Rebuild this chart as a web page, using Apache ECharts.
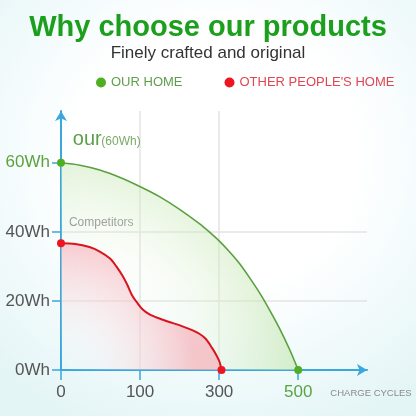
<!DOCTYPE html>
<html>
<head>
<meta charset="utf-8">
<script src="https://cdn.jsdelivr.net/npm/echarts@6/dist/echarts.min.js"></script>
<style>
  html, body { margin: 0; padding: 0; }
  #chart {
    width: 416px; height: 416px;
    background: radial-gradient(ellipse 75% 70% at 52% 38%, #ffffff 45%, #f3fbfc 70%, #e4f5f6 100%);
  }
</style>
</head>
<body>
<div id="chart"></div>
<script>
// ---- data ----
const cycleTicks = [0, 100, 300, 500];            // x tick labels (equally spaced on the picture)
const whTicks = [0, 20, 40, 60];                   // y tick values
const ourCycles = [0, 24, 49, 74, 99, 149, 199, 250, 275, 300, 325, 351, 376, 402, 427, 453, 478, 500];
const ourWh     = [60, 59.3, 57.9, 55.8, 53.2, 50.2, 46.6, 42.4, 40.0, 37.4, 34.4, 30.9, 26.9, 22.4, 17.5, 12.0, 6.0, 0];
const compCycles = [0, 18, 36, 49, 62, 70, 78, 84, 90, 97, 106, 124, 149, 174, 199, 224, 250, 267, 282, 292, 301, 306];
const compWh     = [36.7, 36.5, 35.6, 34.3, 32.3, 30.0, 27.2, 24.6, 21.6, 19.3, 17.6, 16.1, 14.9, 13.9, 13.0, 11.9, 10.5, 8.9, 6.4, 4.5, 2.4, 0];
const seriesNames = ['OUR HOME', "OTHER PEOPLE'S HOME"];
const titleText = 'Why choose our products';
const subtitleText = 'Finely crafted and original';

// map cycles onto the picture's equally spaced tick positions
function toPos(c) {
  for (let i = 0; i < cycleTicks.length - 1; i++) {
    if (c <= cycleTicks[i + 1] || i === cycleTicks.length - 2) {
      return i + (c - cycleTicks[i]) / (cycleTicks[i + 1] - cycleTicks[i]);
    }
  }
}
const pair = (xs, ys) => xs.map((c, i) => [toPos(c), ys[i]]);

const FONT = '"Liberation Sans", Arial, sans-serif';
const AXIS_COLOR = '#3aa7dd';
const GREEN_LINE = '#5ba03f';
const GREEN_DOT = '#4fae22';
const RED_LINE = '#d8141f';
const RED_DOT = '#ec1620';

const chart = echarts.init(document.getElementById('chart'), null, { renderer: 'canvas' });

const endDot = (n) => (v, p) => (p.dataIndex === 0 || p.dataIndex === n - 1) ? 8 : 0;

chart.setOption({
  animation: false,
  title: [
    { text: titleText, left: 'center', top: 13, padding: 0,
      textStyle: { fontFamily: FONT, fontSize: 29, fontWeight: 'bold', color: '#1c9f1c' } },
    { text: subtitleText, left: 'center', top: 45, padding: 0,
      textStyle: { fontFamily: FONT, fontSize: 17, fontWeight: 'normal', color: '#333' } }
  ],
  legend: {
    left: 91, top: 71, icon: 'circle', itemWidth: 10, itemHeight: 10, itemGap: 42,
    textStyle: { fontFamily: FONT, fontSize: 13 },
    data: [
      { name: seriesNames[0], textStyle: { color: '#5f9f4c' } },
      { name: seriesNames[1], textStyle: { color: '#e04652' } }
    ]
  },
  grid: { left: 61, right: 49, top: 111, bottom: 46, containLabel: false },
  xAxis: {
    type: 'value', min: 0, max: 3.87,
    axisLine: { show: true, symbol: ['none', 'arrow'], symbolSize: [9, 10],
      lineStyle: { color: AXIS_COLOR, width: 2 } },
    axisTick: { show: true, length: 10, customValues: [0, 1, 2, 3],
      lineStyle: { color: AXIS_COLOR, width: 1.5 } },
    axisLabel: {
      customValues: [0, 1, 2, 3], margin: 14,
      fontFamily: FONT, fontSize: 17, color: '#555',
      formatter: (v) => {
        const i = Math.round(v);
        const t = String(cycleTicks[i]);
        return i === cycleTicks.length - 1 ? '{g|' + t + '}' : t;
      },
      rich: { g: { color: '#5ba33f', fontFamily: FONT, fontSize: 17 } }
    },
    splitLine: { show: true, showMinLine: false, showMaxLine: false,
      lineStyle: { color: '#e3e3e3', width: 1.5 } }
  },
  yAxis: {
    type: 'value', min: 0, max: 75,
    axisLine: { show: true, symbol: ['none', 'arrow'], symbolSize: [9, 10],
      lineStyle: { color: AXIS_COLOR, width: 2 } },
    axisTick: { show: true, length: 9, customValues: whTicks,
      lineStyle: { color: AXIS_COLOR, width: 1.5 } },
    axisLabel: {
      customValues: whTicks, margin: 11,
      fontFamily: FONT, fontSize: 17, color: '#555',
      formatter: (v) => v === whTicks[whTicks.length - 1] ? '{g|' + v + 'Wh}' : v + 'Wh',
      rich: { g: { color: '#5ba33f', fontFamily: FONT, fontSize: 17 } }
    },
    splitLine: { show: true, showMinLine: false, showMaxLine: false,
      lineStyle: { color: '#e3e3e3', width: 1.5 } }
  },
  series: [
    {
      name: seriesNames[0], type: 'line', smooth: 0.3,
      data: pair(ourCycles, ourWh),
      symbol: 'circle', symbolSize: endDot(ourCycles.length), showAllSymbol: true,
      itemStyle: { color: GREEN_DOT },
      lineStyle: { color: GREEN_LINE, width: 1.6 },
      areaStyle: {
        color: new echarts.graphic.RadialGradient(0, 1, 1.12, [
          { offset: 0, color: 'rgba(255,255,255,0)' },
          { offset: 0.5, color: 'rgba(230,245,222,0.15)' },
          { offset: 1, color: 'rgba(196,230,176,0.9)' }
        ])
      },
      z: 2
    },
    {
      name: seriesNames[1], type: 'line', smooth: 0.3,
      data: pair(compCycles, compWh),
      symbol: 'circle', symbolSize: endDot(compCycles.length), showAllSymbol: true,
      itemStyle: { color: RED_DOT },
      lineStyle: { color: RED_LINE, width: 2 },
      areaStyle: {
        color: new echarts.graphic.RadialGradient(0, 1, 1.05, [
          { offset: 0, color: 'rgba(255,255,255,0)' },
          { offset: 0.3, color: 'rgba(252,225,228,0.25)' },
          { offset: 1, color: 'rgba(246,168,178,0.9)' }
        ])
      },
      z: 3
    }
  ]
});

// annotations placed in data coordinates
const ourAt = chart.convertToPixel({ gridIndex: 0 }, [toPos(15), 66.7]);
const compAt = chart.convertToPixel({ gridIndex: 0 }, [toPos(10), 42.6]);
const axisEnd = chart.convertToPixel({ gridIndex: 0 }, [3.87, 0]);
chart.setOption({
  graphic: [
    { type: 'text', x: ourAt[0], y: ourAt[1],
      style: { text: 'our', fontFamily: FONT, fontSize: 20, fill: '#5c9f48', verticalAlign: 'middle', align: 'left' } },
    { type: 'text', x: ourAt[0] + 28.5, y: ourAt[1] + 2.5,
      style: { text: '(60Wh)', fontFamily: FONT, fontSize: 12, fill: '#7aab68', verticalAlign: 'middle', align: 'left' } },
    { type: 'text', x: compAt[0], y: compAt[1],
      style: { text: 'Competitors', fontFamily: FONT, fontSize: 12, fill: '#858585', verticalAlign: 'middle', align: 'left' } },
    { type: 'text', x: axisEnd[0] + 4, y: axisEnd[1] + 23,
      style: { text: 'CHARGE CYCLES', fontFamily: FONT, fontSize: 9.5, fill: '#8a8a8a', verticalAlign: 'middle', align: 'center' } }
  ]
});
</script>
</body>
</html>
